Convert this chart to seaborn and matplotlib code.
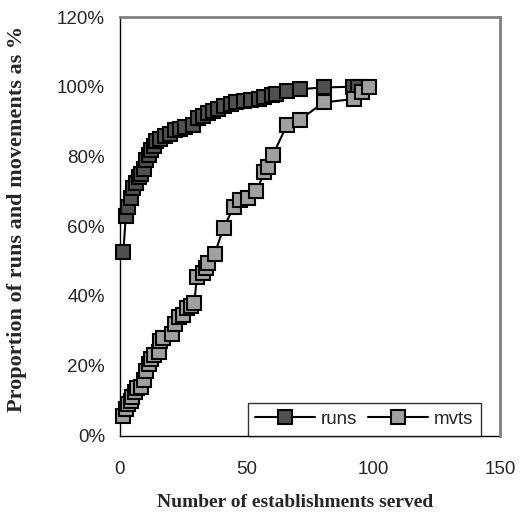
import matplotlib
matplotlib.use("Agg")
import matplotlib.pyplot as plt
import seaborn as sns
import pandas as pd
from matplotlib.ticker import FuncFormatter

# data (percent)
runs_x = [1.5, 2.5, 3.5, 4.5, 5.5, 6.5, 7.5, 8.5, 9.5, 10.5, 11.5, 12.5, 13.5, 14.5,
          16, 18, 20, 22, 24, 26, 29, 31, 33, 35, 37, 39, 41, 44, 46, 49, 52, 55,
          57, 60, 61.5, 66, 71, 80.5, 92, 94]
runs_y = [52.5, 63, 65.5, 68, 71, 72.5, 74, 75, 76.5, 79, 80.5, 82, 83, 84.5,
          85, 86, 86.5, 87.5, 88, 88.5, 89, 91, 91.5, 92.5, 93, 93.5, 94.5, 95, 95.5, 96, 96.3, 96.6,
          97, 97.5, 98, 98.8, 99.3, 99.8, 100, 100]
mvts_x = [1.5, 2.5, 3.5, 4.5, 5, 6, 7, 8.5, 9.5, 10.5, 11.5, 12.5, 13.5, 15.5, 16, 17,
          20.5, 22, 23.5, 25, 26.5, 28, 29.5, 30.5, 33, 34, 35, 37.5, 41, 45, 47.5, 50.5,
          54, 57, 58.5, 60.5, 66, 71, 80.5, 92.5, 95.5, 98.5]
mvts_y = [5.5, 7.5, 9, 10, 11, 12.5, 13.5, 14, 16, 18.5, 20.5, 22, 23, 24, 27, 28,
          29, 32, 34, 34.5, 36.5, 37, 38, 45.5, 46.5, 48, 49.5, 52, 59.5, 65.5, 67.5, 68,
          70, 75.5, 77, 80.5, 89, 90.5, 95.5, 96.5, 98.5, 100]
series_names = ["runs", "mvts"]
x_ticks = [0, 50, 100, 150]
y_ticks = [0, 20, 40, 60, 80, 100, 120]

df = pd.concat([
    pd.DataFrame({"x": runs_x, "y": runs_y, "s": series_names[0]}),
    pd.DataFrame({"x": mvts_x, "y": mvts_y, "s": series_names[1]}),
], ignore_index=True)

sns.set_style("white")
plt.rcParams["font.family"] = ["Liberation Sans", "DejaVu Sans"]

W, H = 523, 516
L, R, T, B = 119.5, 500, 17, 435.5
fig = plt.figure(figsize=(W / 100, H / 100), dpi=100)
ax = fig.add_axes([L / W, 1 - B / H, (R - L) / W, (B - T) / H])

colors = {"runs": "#505050", "mvts": "#a0a0a0"}
for name in series_names:
    sub = df[df["s"] == name]
    sns.lineplot(data=sub, x="x", y="y", ax=ax, estimator=None, sort=False,
                 color="black", linewidth=1.5, marker="s", markersize=9.5,
                 markerfacecolor=colors[name], markeredgecolor="black",
                 markeredgewidth=1.5, label=name, clip_on=False, zorder=3)

ax.set_xlim(0, 150)
ax.set_ylim(0, 120)
ax.set_xticks(x_ticks)
ax.set_yticks(y_ticks)
ax.yaxis.set_major_formatter(FuncFormatter(lambda v, p: f"{int(v)}%"))
ax.tick_params(axis="y", direction="inout", length=9, width=1, labelsize=13.5, pad=6, color="black")
ax.tick_params(axis="x", direction="out", length=5, width=1, labelsize=13.5, pad=13, color="black")

for side in ["left", "bottom"]:
    ax.spines[side].set_color("black")
    ax.spines[side].set_linewidth(1.0)
    ax.spines[side].set_zorder(2)
for side in ["top", "right"]:
    ax.spines[side].set_color("#808080")
    ax.spines[side].set_linewidth(2.0)
    ax.spines[side].set_visible(True)

ax.set_xlabel("Number of establishments served", family="Liberation Serif",
              fontweight="bold", fontsize=14)
ax.xaxis.set_label_coords((295 - L) / (R - L), -(494 - B) / (B - T))
ax.set_ylabel("Proportion of runs and movements as %", family="Liberation Serif",
              fontweight="bold", fontsize=16)
ax.yaxis.set_label_coords(-(L - 27) / (R - L), (B - 219) / (B - T))

leg = ax.legend(loc="lower right", bbox_to_anchor=(0.95, 0.0), borderaxespad=0,
                ncol=2, frameon=True, fancybox=False, fontsize=13.5,
                handlelength=3.2, columnspacing=0.6, handletextpad=0.3,
                borderpad=0.4)
leg.get_frame().set_edgecolor("black")
leg.get_frame().set_linewidth(1.0)
leg.set_zorder(5)

fig.savefig("out.png", dpi=100, facecolor="white")
